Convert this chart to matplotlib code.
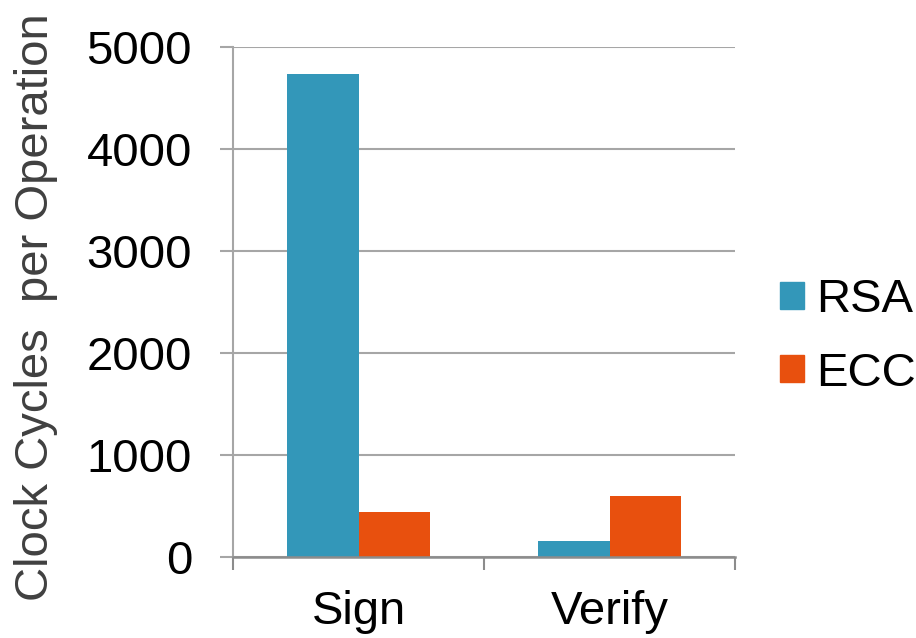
import numpy as np
import matplotlib.pyplot as plt
from matplotlib.patches import Patch

plt.rcParams["font.family"] = ["Liberation Sans", "DejaVu Sans"]

# ── Data ──────────────────────────────────────────────────────────────────────
operations = ["Sign", "Verify"]
rsa_cycles = [4740, 160]
ecc_cycles = [440, 600]
series = ["RSA", "ECC"]
colors = ["#3397B9", "#E8500E"]
y_ticks = [0, 1000, 2000, 3000, 4000, 5000]

fig = plt.figure(figsize=(9.16, 6.38), dpi=100, facecolor="white")
ax = fig.add_axes([0.2544, 0.127, 0.548, 0.7993])

x = np.arange(len(operations))
w = 0.283
ax.bar(x - w / 2, rsa_cycles, width=w, color=colors[0], zorder=3)
ax.bar(x + w / 2, ecc_cycles, width=w, color=colors[1], zorder=3)

ax.set_xlim(-0.5, len(operations) - 0.5)
ax.set_ylim(0, 5000)
ax.set_yticks(y_ticks)
ax.set_yticklabels([str(t) for t in y_ticks], fontsize=34)
ax.yaxis.grid(True, color="#a6a6a6", linewidth=1.5, zorder=0)
ax.tick_params(axis="y", length=9.5, width=1.5, color="#a6a6a6", pad=20)

# category labels centred, boundary ticks between groups
ax.set_xticks(x)
ax.set_xticklabels(operations, fontsize=34)
ax.tick_params(axis="x", length=0, pad=24)
ax.set_xticks(np.arange(len(operations) + 1) - 0.5, minor=True)
ax.tick_params(axis="x", which="minor", length=9.5, width=1.5, color="#8c8c8c")

for s in ["top", "right"]:
    ax.spines[s].set_visible(False)
ax.spines["left"].set_color("#a6a6a6")
ax.spines["left"].set_linewidth(1.5)
ax.spines["bottom"].set_color("#8c8c8c")
ax.spines["bottom"].set_linewidth(1.8)
ax.spines["bottom"].set_zorder(4)

ax.set_ylabel("Clock Cycles  per Operation", fontsize=34, color="#404040")
ax.yaxis.set_label_coords(-0.349, 0.49)

handles = [Patch(color=c, label=s) for c, s in zip(colors, series)]
fig.legend(handles=handles, loc="center left", bbox_to_anchor=(0.8515, 0.472),
           frameon=False, fontsize=34, handlelength=0.51, handleheight=0.51,
           handletextpad=0.26, labelspacing=0.62, borderpad=0, borderaxespad=0)

fig.savefig("out.png", dpi=100, facecolor="white")
